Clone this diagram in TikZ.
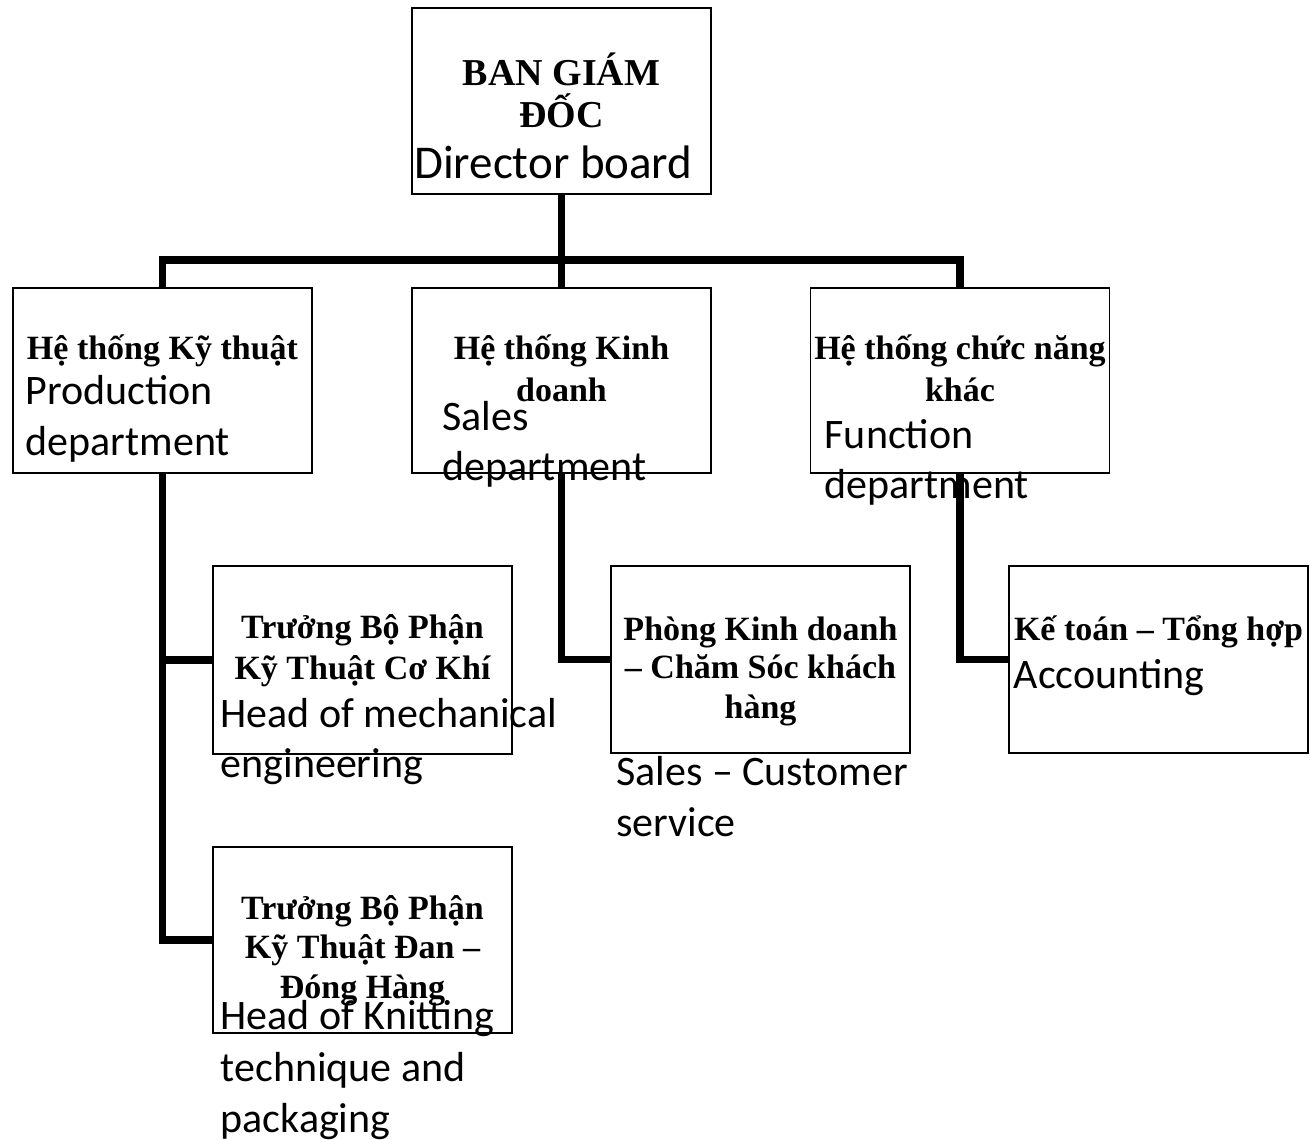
\documentclass[tikz,border=0pt]{standalone}
\usepackage{fontspec}
\setmainfont{Liberation Serif}
\newfontfamily\calib{Carlito}
\begin{document}
\begin{tikzpicture}[x=1pt,y=-1pt,
  box/.style={draw=black, line width=1.8pt, rectangle, inner sep=0pt, minimum width=299pt},
  conn/.style={draw=black, line width=7.5pt, line join=miter, line cap=butt},
  vn/.style={inner sep=0pt, anchor=base, font=\fontsize{34}{40}\selectfont\bfseries},
  vnbig/.style={inner sep=0pt, anchor=base, font=\fontsize{38}{43}\selectfont\bfseries},
  en/.style={inner sep=0pt, anchor=base west, font=\calib\fontsize{42}{51}\selectfont},
  enbig/.style={inner sep=0pt, anchor=base west, font=\calib\fontsize{47}{56}\selectfont}]
\useasboundingbox (0,0) rectangle (1310,1140);

% boxes
\node[box, minimum height=186pt] (top) at (561.5,101) {};
\node[box, minimum height=185pt] (prod) at (162.5,380.5) {};
\node[box, minimum height=185pt] (sales) at (561.5,380.5) {};
\node[box, minimum height=185pt] (func) at (960,380.5) {};
\node[box, minimum height=188pt] (mech) at (362.5,660) {};
\node[box, minimum height=186pt] (knit) at (362.5,940) {};
\node[box, minimum height=187pt] (cust) at (760.5,659.5) {};
\node[box, minimum height=187pt] (acct) at (1158.5,659.5) {};

% connectors
\draw[conn] (top.south) -- (sales.north);
\draw[conn] (prod.north) -- ++(0,-27) -| (func.north);
\draw[conn] (prod.south) |- (mech.west);
\draw[conn] (prod.south) |- (knit.west);
\draw[conn] (sales.south) |- (cust.west);
\draw[conn] (func.south) |- (acct.west);

% top box texts
\node[vnbig] (t1) at (561.5,85) {BAN GIÁM};
\node[vnbig] (t2) at (561.5,128) {ĐỐC};
\node[enbig] (t3) at (414,178) {Director board};

% production
\node[vn] (p1) at (162.5,359) {Hệ thống Kỹ thuật};
\node[en] (p2) at (25.5,404) {Production};
\node[en] (p3) at (25.5,455) {department};

% sales
\node[vn] (s1) at (561.5,359) {Hệ thống Kinh};
\node[vn] (s2) at (561.5,401) {doanh};
\node[en] (s3) at (442,430) {Sales};
\node[en] (s4) at (442,480) {department};

% function
\node[vn] (f1) at (960,359) {Hệ thống chức năng};
\node[vn] (f2) at (960,401) {khác};
\node[en] (f3) at (824.5,448) {Function};
\node[en] (f4) at (824.5,498) {department};

% mechanical
\node[vn] (m1) at (362.5,638) {Trưởng Bộ Phận};
\node[vn] (m2) at (362.5,679) {Kỹ Thuật Cơ Khí};
\node[en] (m3) at (220.5,727) {Head of mechanical};
\node[en] (m4) at (220.5,777) {engineering};

% knitting
\node[vn] (k1) at (362.5,919) {Trưởng Bộ Phận};
\node[vn] (k2) at (362.5,958) {Kỹ Thuật Đan –};
\node[vn] (k3) at (362.5,998) {Đóng Hàng};
\node[en] (k4) at (220.5,1029) {Head of Knitting};
\node[en] (k5) at (220.5,1081) {technique and};
\node[en] (k6) at (220.5,1132) {packaging};

% customer service
\node[vn] (c1) at (760.5,640) {Phòng Kinh doanh};
\node[vn] (c2) at (760.5,678) {– Chăm Sóc khách};
\node[vn] (c3) at (760.5,718) {hàng};
\node[en] (c4) at (616,785) {Sales – Customer};
\node[en] (c5) at (616,836) {service};

% accounting
\node[vn] (a1) at (1158.5,640) {Kế toán – Tổng hợp};
\node[en] (a2) at (1013.5,688) {Accounting};
\end{tikzpicture}
\end{document}
